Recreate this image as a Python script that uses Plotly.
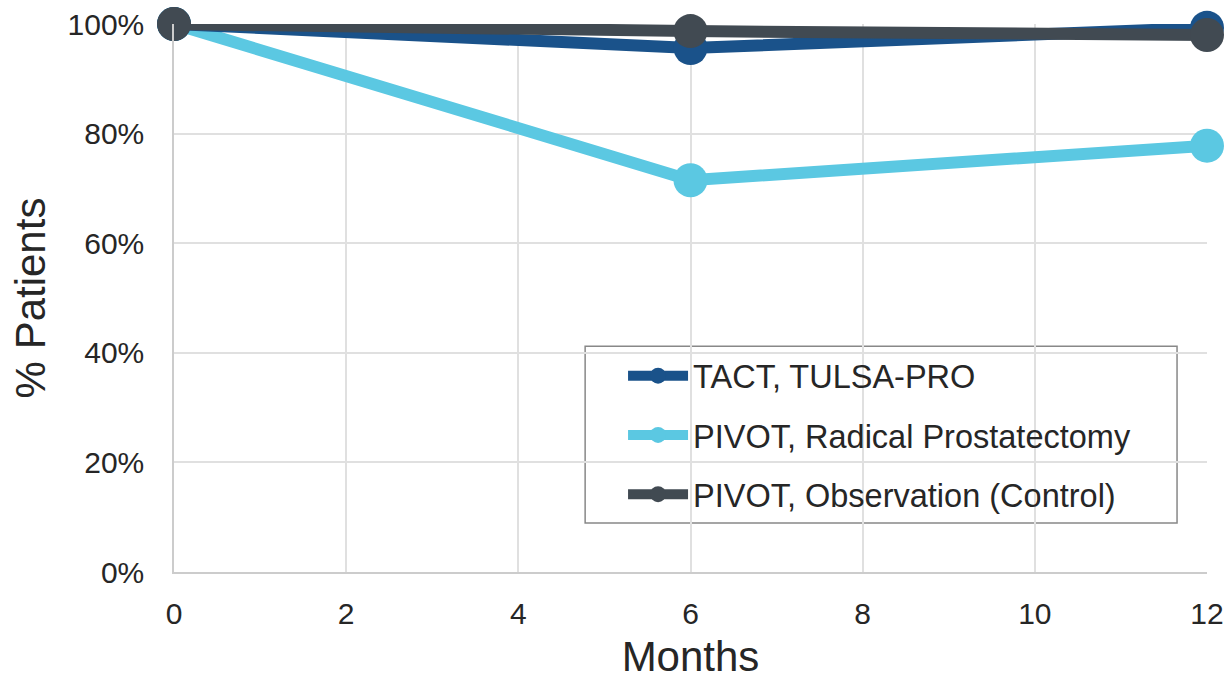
import plotly.graph_objects as go

months = [0, 6, 12]
tact = [100, 95.6, 99.3]
rp = [100, 71.5, 77.8]
obs = [100, 98.7, 98.0]

x_ticks = [0, 2, 4, 6, 8, 10, 12]
y_ticks = [0, 20, 40, 60, 80, 100]
y_labels = ["0%", "20%", "40%", "60%", "80%", "100%"]

names = ["TACT, TULSA-PRO", "PIVOT, Radical Prostatectomy", "PIVOT, Observation (Control)"]
colors = ["#1a528a", "#5bc8e2", "#414a52"]

fig = go.Figure()
# draw order: RP bottom, TACT, Observation on top
for vals, name, col, rank in [(rp, names[1], colors[1], 2), (tact, names[0], colors[0], 1), (obs, names[2], colors[2], 3)]:
    fig.add_trace(go.Scatter(
        x=months, y=vals, name=name, mode="lines+markers",
        line=dict(color=col, width=12),
        marker=dict(color=col, size=34),
        legendrank=rank, legendgroup=name, cliponaxis=False,
    ))

# legend frame
fig.add_shape(type="rect", xref="paper", yref="paper",
              x0=0.398, x1=0.971, y0=0.0894, y1=0.412,
              line=dict(color="#888888", width=1.5), fillcolor="white", layer="below")

fig.update_layout(
    width=1227, height=680,
    margin=dict(l=174, r=20, t=24, b=108, autoexpand=False),
    plot_bgcolor="white", paper_bgcolor="white",
    font=dict(family="Liberation Sans, Arial, sans-serif", color="#262626", size=30),
    showlegend=True,
    legend=dict(
        x=0.4347, y=0.4087, xanchor="left", yanchor="top",
        borderwidth=0, bgcolor="rgba(0,0,0,0)",
        font=dict(size=32.5, color="#262626"),
        tracegroupgap=14, itemsizing="trace", itemwidth=60,
    ),
    xaxis=dict(
        range=[0, 12], tickvals=x_ticks, ticks="",
        showgrid=True, gridcolor="#e0e0e0", gridwidth=1.5,
        showline=True, linecolor="#cccccc", linewidth=1.5,
        zeroline=False, automargin=False,
        ticklabelstandoff=14,
        title=dict(text="Months", font=dict(size=42), standoff=26),
        tickfont=dict(size=30),
    ),
    yaxis=dict(
        range=[0, 100], tickvals=y_ticks, ticktext=y_labels, ticks="",
        showgrid=True, gridcolor="#e0e0e0", gridwidth=1.5,
        showline=True, linecolor="#cccccc", linewidth=1.5,
        zeroline=False, automargin=False,
        ticklabelstandoff=22,
        title=dict(text="% Patients", font=dict(size=42), standoff=9),
        tickfont=dict(size=30),
    ),
)

fig.write_html("out.html")
